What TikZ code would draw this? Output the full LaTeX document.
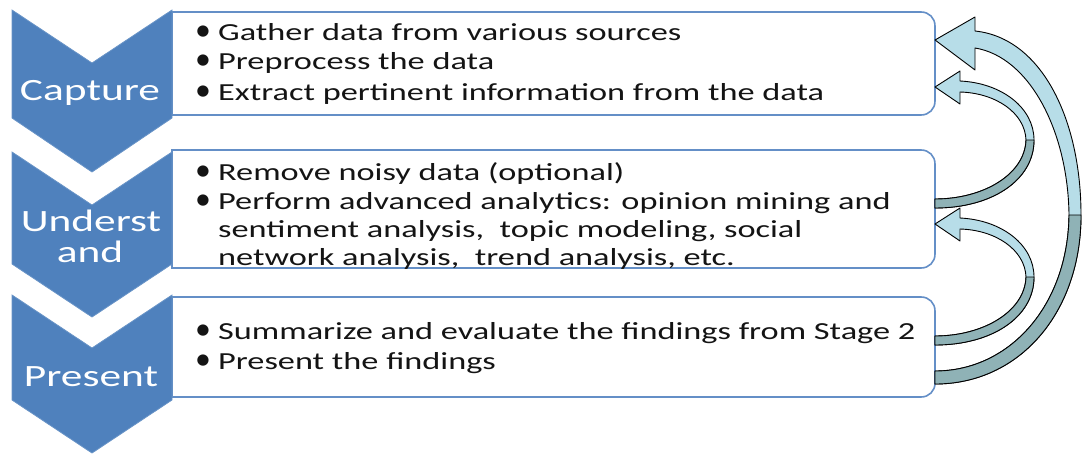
\documentclass[tikz,border=0pt]{standalone}
\usepackage{fontspec}
\setmainfont{Carlito}
\usepackage{graphicx}
\definecolor{chev}{RGB}{79,129,189}
\definecolor{boxline}{RGB}{100,143,199}
\definecolor{arrlight}{RGB}{183,221,232}
\definecolor{arrdark}{RGB}{143,178,182}
\definecolor{txt}{RGB}{20,20,20}
\tikzset{
 chevron/.style={fill=chev, draw=chev!85!white, line width=0.8pt},
 listbox/.style={fill=white, draw=boxline, line width=1.6pt},
 bodytext/.style={anchor=base west, inner sep=0pt, text=txt, font=\fontsize{24.5}{29}\selectfont},
 labeltext/.style={anchor=base, inner sep=0pt, text=white, font=\fontsize{31}{36}\selectfont},
 arrbody/.style={fill=arrlight, draw=black, line width=0.9pt, line join=round},
 arrunder/.style={fill=arrdark, draw=black, line width=0.9pt, line join=round},
}
\newcommand\wide[1]{\scalebox{1.4}[1]{#1}}
\newcommand\bul{\makebox[23pt][l]{\scalebox{1.3}[1.3]{•}}}
\newcommand\stagebox[2]{%
 \path[listbox] (172,#1) -- (921,#1) .. controls (929,#1) and (935,#1+6) .. (935,#1+14)
   -- (935,#2-14) .. controls (935,#2-6) and (929,#2) .. (921,#2) -- (172,#2) -- cycle;}
\newcommand\stagechevron[3]{%
 \path[chevron] (12,#1) -- (92,#1+53) -- (172,#1) -- (172,#2) -- (92,#3) -- (12,#2) -- cycle;}
\newcommand\smallcurve{%
 \path[arrbody] (960,81) .. controls (1002,83) and (1034,108) .. (1034,140)
  .. controls (1034,180) and (992,208) .. (935,208) -- (935,199)
  .. controls (984,199) and (1025,174) .. (1026,140)
  .. controls (1025,113) and (996,93) .. (960,92) -- (960,104) -- (935,87) -- (960,71) -- cycle;
 \path[arrunder] (1034,140) .. controls (1034,180) and (992,208) .. (935,208) -- (935,199)
  .. controls (984,199) and (1025,174) .. (1026,140) -- cycle;}
\begin{document}
\begin{tikzpicture}[x=1pt,y=-1pt]
\useasboundingbox (0,0) rectangle (1083,455);
% boxes
\stagebox{12}{115}
\stagebox{150}{268}
\stagebox{297}{397}
% chevrons
\stagechevron{10}{118}{172}
\stagechevron{152}{264}{317}
\stagechevron{295}{400}{453}
% chevron labels
\node[labeltext] (l1) at (90,100) {\wide{Capture}};
\node[labeltext] (l2a) at (91,231) {\wide{Underst}};
\node[labeltext] (l2b) at (90,262) {\wide{and}};
\node[labeltext] (l3) at (91,386) {\wide{Present}};
% box 1 text
\node[bodytext] (t11) at (195,40) {\bul\wide{Gather data from various sources}};
\node[bodytext] (t12) at (195,69) {\bul\wide{Preprocess the data}};
\node[bodytext] (t13) at (195,100) {\bul\wide{Extract pertinent information from the data}};
% box 2 text
\node[bodytext] (t21) at (195,180) {\bul\wide{Remove noisy data (optional)}};
\node[bodytext] (t22) at (195,209) {\bul\wide{Perform advanced analytics: opinion mining and}};
\node[bodytext] (t23) at (218,237) {\wide{sentiment analysis,\ \ topic modeling, social}};
\node[bodytext] (t24) at (218,265) {\wide{network analysis,\ \ trend analysis, etc.}};
% box 3 text
\node[bodytext] (t31) at (195,339) {\bul\wide{Summarize and evaluate the findings from Stage 2}};
\node[bodytext] (t32) at (195,369) {\bul\wide{Present the findings}};
% curved arrow: stage 2 -> stage 1
\smallcurve
% curved arrow: stage 3 -> stage 2
\begin{scope}[shift={(0,137)}]
\smallcurve
\end{scope}
% big curved arrow: stage 3 -> stage 1
\path[arrbody] (975,31) .. controls (1042,38) and (1081,120) .. (1081,215)
  .. controls (1081,312) and (1020,384) .. (935,384) -- (935,371)
  .. controls (1010,371) and (1068,305) .. (1069,215)
  .. controls (1068,132) and (1030,57) .. (975,48) -- (975,70) -- (935,40) -- (975,17) -- cycle;
\path[arrunder] (1081,215) .. controls (1081,312) and (1020,384) .. (935,384) -- (935,371)
  .. controls (1010,371) and (1068,305) .. (1069,215) -- cycle;
\end{tikzpicture}
\end{document}
